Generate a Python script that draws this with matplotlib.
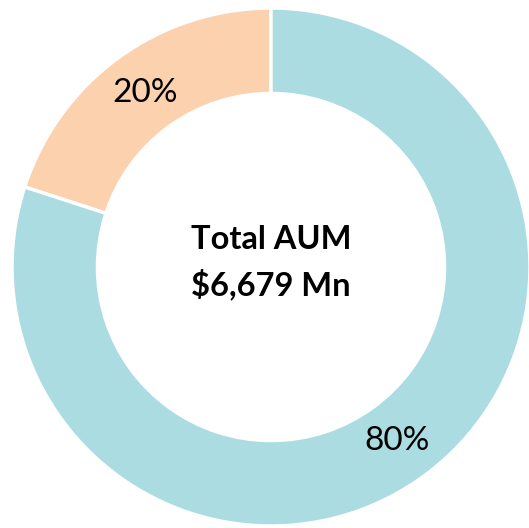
import matplotlib.pyplot as plt

# AUM split (share of total)
labels = ['Segment B', 'Segment A']
shares = [20, 80]
colors = ['#FBD1AE', '#AADCE2']
center_title = 'Total AUM'
center_value = '$6,679 Mn'

fig = plt.figure(figsize=(5.29, 5.28), dpi=100)
ax = fig.add_axes([0, 0, 1, 1])

wedges, texts, autotexts = ax.pie(
    shares,
    colors=colors,
    startangle=90,
    counterclock=True,
    radius=1.0,
    autopct='%.0f%%',
    pctdistance=0.83,
    wedgeprops=dict(width=0.33, edgecolor='white', linewidth=2.5),
    textprops=dict(fontsize=24, color='black', family='Lato'),
)

ax.text(0, 0.105, center_title, ha='center', va='center',
        fontsize=23.5, fontweight='bold', family='Lato')
ax.text(0, -0.068, center_value, ha='center', va='center',
        fontsize=23.5, fontweight='bold', family='Lato')

ax.set_aspect('auto')
ax.set_xlim(-271 / 259, (529 - 271) / 259)
ax.set_ylim(-(528 - 267) / 259, 267 / 259)
ax.axis('off')

fig.savefig('out.png', dpi=100)
